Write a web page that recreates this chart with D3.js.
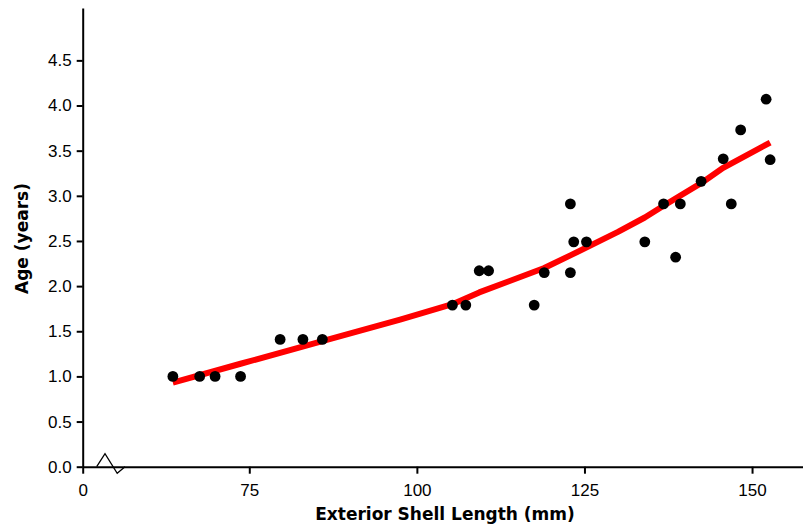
<!DOCTYPE html>
<html>
<head>
<meta charset="utf-8">
<script src="https://cdn.jsdelivr.net/npm/d3@7"></script>
<style>
  body { margin: 0; background: #fff; }
  svg { display: block; font-family: "DejaVu Sans", Verdana, sans-serif; }
  .axis text { font-size: 17px; fill: #000; }
  .axis path, .axis line { stroke: #000; stroke-width: 2; }
  .axis-title { font-size: 17px; font-weight: bold; fill: #000; }
</style>
</head>
<body>
<svg id="chart" width="803" height="527"></svg>
<script>
// shell length (mm) and age (years) of each specimen
const shellLength = [63.6, 67.6, 69.9, 73.7, 79.6, 83.0, 85.9, 105.3, 107.3, 109.3, 110.7,
  117.5, 119.0, 122.9, 122.9, 123.4, 125.3, 134.0, 136.8, 138.6, 139.3, 142.4, 145.7,
  146.9, 148.3, 152.1, 152.7];
const age = [1.0, 1.0, 1.0, 1.0, 1.41, 1.41, 1.41, 1.79, 1.79, 2.17, 2.17,
  1.79, 2.15, 2.91, 2.15, 2.49, 2.49, 2.49, 2.91, 2.32, 2.91, 3.16, 3.41,
  2.91, 3.73, 4.07, 3.40];

// fitted curve
const fitLength = [63.6, 73.7, 85.9, 97.5, 105.3, 109.3, 119.0, 122.9, 130.0, 134.0, 136.8, 142.4, 145.7, 152.7];
const fitAge = [0.93, 1.14, 1.39, 1.63, 1.80, 1.93, 2.20, 2.34, 2.60, 2.76, 2.89, 3.14, 3.31, 3.59];

const xTickValues = [50.15, 75, 100, 125, 150];
const xTickLabels = ["0", "75", "100", "125", "150"];
const yTickValues = [0, 0.5, 1, 1.5, 2, 2.5, 3, 3.5, 4, 4.5];

const svg = d3.select("#chart");

const x = d3.scaleLinear().domain([50.15, 157.6]).range([82.7, 803]);
const y = d3.scaleLinear().domain([0, 5.08]).range([466.7, 8]);

svg.append("g")
  .attr("class", "axis")
  .attr("transform", "translate(0," + y(0) + ")")
  .call(d3.axisBottom(x)
    .tickValues(xTickValues)
    .tickFormat((d, i) => xTickLabels[i])
    .tickSize(7)
    .tickSizeOuter(0)
    .tickPadding(10));

svg.append("g")
  .attr("class", "axis")
  .attr("transform", "translate(" + x(50.15) + ",0)")
  .call(d3.axisLeft(y)
    .tickValues(yTickValues)
    .tickFormat(d3.format(".1f"))
    .tickSize(6)
    .tickSizeOuter(0)
    .tickPadding(5));

// axis break marker
const x0 = x(50.15), y0 = y(0);
svg.append("path")
  .attr("d", d3.line()([[x0 + 14, y0], [x0 + 22.3, y0 - 13], [x0 + 34.5, y0 + 6.6], [x0 + 42.3, y0]]))
  .attr("fill", "none")
  .attr("stroke", "#000")
  .attr("stroke-width", 1.3);

const fit = fitLength.map((d, i) => [d, fitAge[i]]);
svg.append("path")
  .datum(fit)
  .attr("d", d3.line().x((d) => x(d[0])).y((d) => y(d[1])))
  .attr("fill", "none")
  .attr("stroke", "#ff0000")
  .attr("stroke-width", 6)
  .attr("stroke-linejoin", "round");

svg.append("g")
  .selectAll("circle")
  .data(shellLength)
  .enter()
  .append("circle")
  .attr("cx", (d) => x(d))
  .attr("cy", (d, i) => y(age[i]))
  .attr("r", 5.4)
  .attr("fill", "#000");

svg.append("text")
  .attr("class", "axis-title")
  .attr("x", 445)
  .attr("y", 519.5)
  .attr("text-anchor", "middle")
  .text("Exterior Shell Length (mm)");

svg.append("text")
  .attr("class", "axis-title")
  .attr("transform", "translate(28,238.5) rotate(-90)")
  .attr("text-anchor", "middle")
  .text("Age (years)");
</script>
</body>
</html>
